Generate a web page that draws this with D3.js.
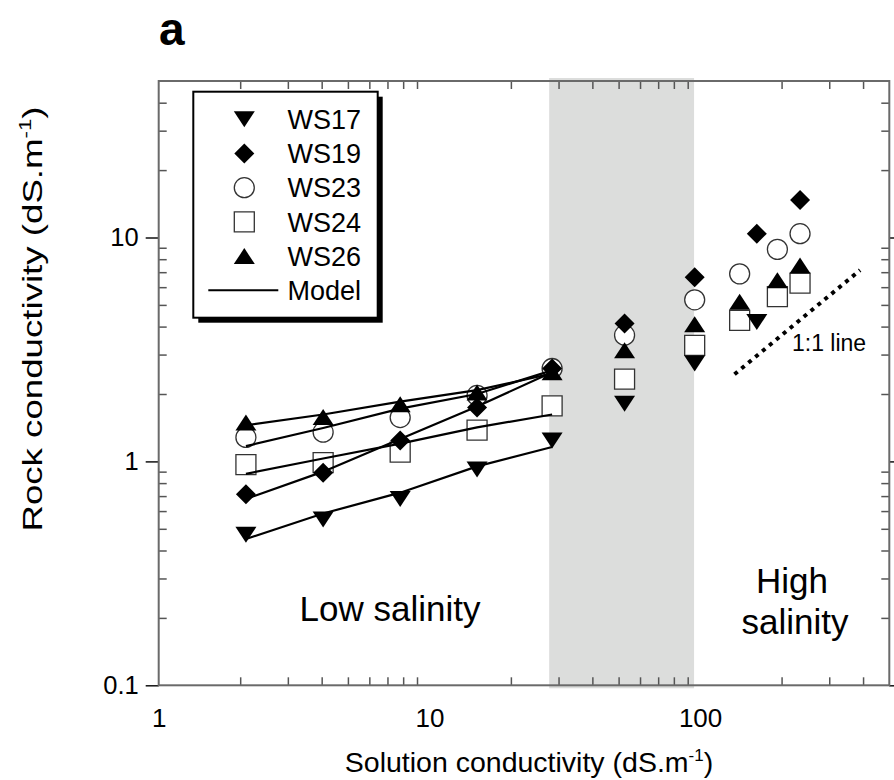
<!DOCTYPE html>
<html>
<head>
<meta charset="utf-8">
<script src="https://cdn.jsdelivr.net/npm/d3@7"></script>
<style>
  body { margin: 0; background: #fff; }
  svg { display: block; }
  text { font-family: "Liberation Sans", Arial, sans-serif; fill: #000; }
</style>
</head>
<body>
<svg id="chart" width="894" height="780"></svg>
<script>
// ---- data -------------------------------------------------------------
const seriesNames = ["WS17", "WS19", "WS23", "WS24", "WS26"];

const ws17X = [2.1, 4.05, 7.8, 15, 28.4, 52.6, 95.5, 162];
const ws17Y = [0.47, 0.55, 0.68, 0.92, 1.24, 1.81, 2.74, 4.19];
const ws19X = [2.1, 4.05, 7.8, 15, 28.4, 52.6, 95.5, 162, 234];
const ws19Y = [0.714, 0.89, 1.24, 1.74, 2.6, 4.13, 6.64, 10.4, 14.7];
const ws23X = [2.1, 4.05, 7.8, 15, 28.4, 52.6, 95.5, 140, 193, 234];
const ws23Y = [1.28, 1.35, 1.57, 1.97, 2.6, 3.66, 5.27, 6.88, 8.85, 10.4];
const ws24X = [2.1, 4.05, 7.8, 15, 28.4, 52.6, 95.5, 140, 193, 234];
const ws24Y = [0.967, 0.987, 1.1, 1.38, 1.77, 2.33, 3.3, 4.26, 5.44, 6.25];
const ws26X = [2.1, 4.05, 7.8, 15, 28.4, 52.6, 95.5, 140, 193, 234];
const ws26Y = [1.49, 1.58, 1.8, 2.03, 2.5, 3.14, 4.1, 5.17, 6.45, 7.49];

// model curves over the low-salinity range
const modelX = [2.1, 4.05, 7.8, 15, 28.4];
const model17 = [0.45, 0.585, 0.725, 0.95, 1.16];
const model19 = [0.68, 0.9, 1.26, 1.76, 2.5];
const model23 = [1.17, 1.41, 1.72, 2.0, 2.55];
const model24 = [0.88, 1.03, 1.2, 1.42, 1.62];
const model26 = [1.45, 1.62, 1.85, 2.08, 2.47];

// transition zone between low and high salinity
const bandX = [27.7, 95];

// 1:1 reference segment
const oneToOneX = [134, 390];
const oneToOneY = [2.45, 7.15];

// axes
const xDomain = [1, 500];
const yDomain = [0.1, 50];
const xMajor = [1, 10, 100];
const xMajorLabels = ["1", "10", "100"];
const yMajor = [0.1, 1, 10];
const yMajorLabels = ["0.1", "1", "10"];
const xMinor = [2, 3, 4, 5, 6, 7, 8, 9, 20, 30, 40, 50, 60, 70, 80, 90, 200, 300, 400];
const yMinor = [0.2, 0.3, 0.4, 0.5, 0.6, 0.7, 0.8, 0.9, 2, 3, 4, 5, 6, 7, 8, 9, 20, 30, 40];

// ---- layout -------------------------------------------------------------
const L = 158.7, R = 889.3, T = 81, B = 685.3;
const svg = d3.select("#chart");

const x = d3.scaleLog().domain(xDomain).range([L, R]);
const y = d3.scaleLog().domain(yDomain).range([B, T]);

// marker shapes
const shapes = {
  WS17: { d: "M-10.5,-8L10.5,-8L0,8Z", fill: "#000", stroke: "none" },
  WS19: { d: "M0,-10L10,0L0,10L-10,0Z", fill: "#000", stroke: "none" },
  WS23: { d: "M10,0A10,10 0 1,1 -10,0A10,10 0 1,1 10,0Z", fill: "#fff", stroke: "#333" },
  WS24: { d: "M-10,-10H10V10H-10Z", fill: "#fff", stroke: "#333" },
  WS26: { d: "M-10.5,8L10.5,8L0,-8Z", fill: "#000", stroke: "none" }
};

// shaded transition band (runs slightly past the frame)
svg.append("rect")
  .attr("x", x(bandX[0]))
  .attr("y", T - 3)
  .attr("width", x(bandX[1]) - x(bandX[0]))
  .attr("height", B - T + 6)
  .attr("fill", "#dcdddc");

// ---- axes ---------------------------------------------------------------
const tickColor = "#555";
function styleAxis(g) {
  g.select(".domain").remove();
  g.selectAll(".tick line").attr("stroke", tickColor).attr("stroke-width", 1.5);
}

// minor ticks, pointing inward on all four sides
svg.append("g").attr("transform", `translate(0,${B})`)
  .call(d3.axisBottom(x).tickValues(xMinor).tickSizeInner(-8).tickSizeOuter(0).tickFormat(""))
  .call(styleAxis);
svg.append("g").attr("transform", `translate(0,${T})`)
  .call(d3.axisTop(x).tickValues(xMinor).tickSizeInner(-8).tickSizeOuter(0).tickFormat(""))
  .call(styleAxis);
svg.append("g").attr("transform", `translate(${L},0)`)
  .call(d3.axisLeft(y).tickValues(yMinor).tickSizeInner(-8).tickSizeOuter(0).tickFormat(""))
  .call(styleAxis);
svg.append("g").attr("transform", `translate(${R},0)`)
  .call(d3.axisRight(y).tickValues(yMinor).tickSizeInner(-8).tickSizeOuter(0).tickFormat(""))
  .call(styleAxis);

// major y ticks point outward, with labels on the left
const yLeft = svg.append("g").attr("transform", `translate(${L},0)`)
  .call(d3.axisLeft(y).tickValues(yMajor).tickSizeInner(13).tickSizeOuter(0).tickPadding(7)
    .tickFormat((d, i) => yMajorLabels[i]))
  .call(styleAxis);
yLeft.selectAll(".tick line").attr("stroke", "#111");
yLeft.selectAll("text").attr("font-size", 25.5).attr("font-family", null);

svg.append("g").attr("transform", `translate(${R},0)`)
  .call(d3.axisRight(y).tickValues(yMajor).tickSizeInner(13).tickSizeOuter(0).tickFormat(""))
  .call(styleAxis)
  .selectAll(".tick line").attr("stroke", "#111");

// x labels only (no major marks on the x axis)
svg.append("g").attr("transform", `translate(0,${B})`)
  .call(d3.axisBottom(x).tickValues(xMajor).tickSize(0).tickPadding(23)
    .tickFormat((d, i) => xMajorLabels[i]))
  .call(g => g.select(".domain").remove())
  .selectAll("text").attr("font-size", 26).attr("font-family", null);

// plot frame
svg.append("rect")
  .attr("x", L).attr("y", T)
  .attr("width", R - L).attr("height", B - T)
  .attr("fill", "none").attr("stroke", "#6a6a6a").attr("stroke-width", 2);

// ---- 1:1 line --------------------------------------------------------------
svg.append("line")
  .attr("x1", x(oneToOneX[0])).attr("y1", y(oneToOneY[0]))
  .attr("x2", x(oneToOneX[1])).attr("y2", y(oneToOneY[1]))
  .attr("stroke", "#000").attr("stroke-width", 4)
  .attr("stroke-dasharray", "4,5");
svg.append("text")
  .attr("x", 792).attr("y", 351)
  .attr("font-size", 23)
  .text("1:1 line");

// ---- data points ------------------------------------------------------------
const seriesData = {
  WS17: [ws17X, ws17Y], WS19: [ws19X, ws19Y], WS23: [ws23X, ws23Y],
  WS24: [ws24X, ws24Y], WS26: [ws26X, ws26Y]
};
const drawOrder = ["WS23", "WS24", "WS17", "WS19", "WS26"];
drawOrder.forEach(name => {
  const [xs, ys] = seriesData[name];
  const s = shapes[name];
  svg.append("g").selectAll("path")
    .data(xs.map((v, i) => [v, ys[i]]))
    .join("path")
    .attr("transform", d => `translate(${x(d[0])},${y(d[1])})`)
    .attr("d", s.d)
    .attr("fill", s.fill)
    .attr("stroke", s.stroke)
    .attr("stroke-width", 1.3);
});

// ---- model curves -------------------------------------------------------------
const line = d3.line().x(d => x(d[0])).y(d => y(d[1]));
[model17, model19, model23, model24, model26].forEach(m => {
  svg.append("path")
    .datum(modelX.map((v, i) => [v, m[i]]))
    .attr("d", line)
    .attr("fill", "none")
    .attr("stroke", "#000")
    .attr("stroke-width", 2.2);
});

// ---- region labels -----------------------------------------------------------
svg.append("text").attr("x", 390).attr("y", 621).attr("font-size", 35)
  .attr("text-anchor", "middle").text("Low salinity");
svg.append("text").attr("x", 792).attr("y", 593).attr("font-size", 35)
  .attr("text-anchor", "middle").text("High");
svg.append("text").attr("x", 795).attr("y", 634).attr("font-size", 35)
  .attr("text-anchor", "middle").text("salinity");

// ---- axis titles -----------------------------------------------------------------
const xt = svg.append("text")
  .attr("x", 529).attr("y", 772)
  .attr("font-size", 28.5).attr("text-anchor", "middle");
xt.append("tspan").text("Solution conductivity (dS.m");
xt.append("tspan").attr("font-size", 17).attr("dy", -11).text("-1");
xt.append("tspan").attr("dy", 11).text(")");

// vertical title, drawn elongated along its baseline
const yt = svg.append("text")
  .attr("transform", "translate(42,319) rotate(-90) scale(1.31,1)")
  .attr("font-size", 28).attr("text-anchor", "middle");
yt.append("tspan").text("Rock conductivity (dS.m");
yt.append("tspan").attr("font-size", 17).attr("dy", -11).text("-1");
yt.append("tspan").attr("dy", 11).text(")");

// panel letter
svg.append("text").attr("x", 159).attr("y", 45)
  .attr("font-size", 46).attr("font-weight", "bold").text("a");

// ---- legend -------------------------------------------------------------------
const lg = { x: 193.3, y: 91.7, w: 184.4, h: 226 };
svg.append("rect")
  .attr("x", lg.x + 5).attr("y", lg.y + 5).attr("width", lg.w).attr("height", lg.h)
  .attr("fill", "#000");
svg.append("rect")
  .attr("x", lg.x).attr("y", lg.y).attr("width", lg.w).attr("height", lg.h)
  .attr("fill", "#fff").attr("stroke", "#000").attr("stroke-width", 2);

const rowY = i => 119.3 + i * 34.2;
seriesNames.forEach((name, i) => {
  const s = shapes[name];
  svg.append("path")
    .attr("transform", `translate(244.3,${rowY(i)})`)
    .attr("d", s.d).attr("fill", s.fill).attr("stroke", s.stroke).attr("stroke-width", 1.3);
  svg.append("text").attr("x", 287.5).attr("y", rowY(i)).attr("dy", "0.36em")
    .attr("font-size", 27).text(name);
});
svg.append("line")
  .attr("x1", 208.3).attr("x2", 278.3)
  .attr("y1", rowY(5)).attr("y2", rowY(5))
  .attr("stroke", "#000").attr("stroke-width", 2);
svg.append("text").attr("x", 287.5).attr("y", rowY(5)).attr("dy", "0.36em")
  .attr("font-size", 27).text("Model");
</script>
</body>
</html>
